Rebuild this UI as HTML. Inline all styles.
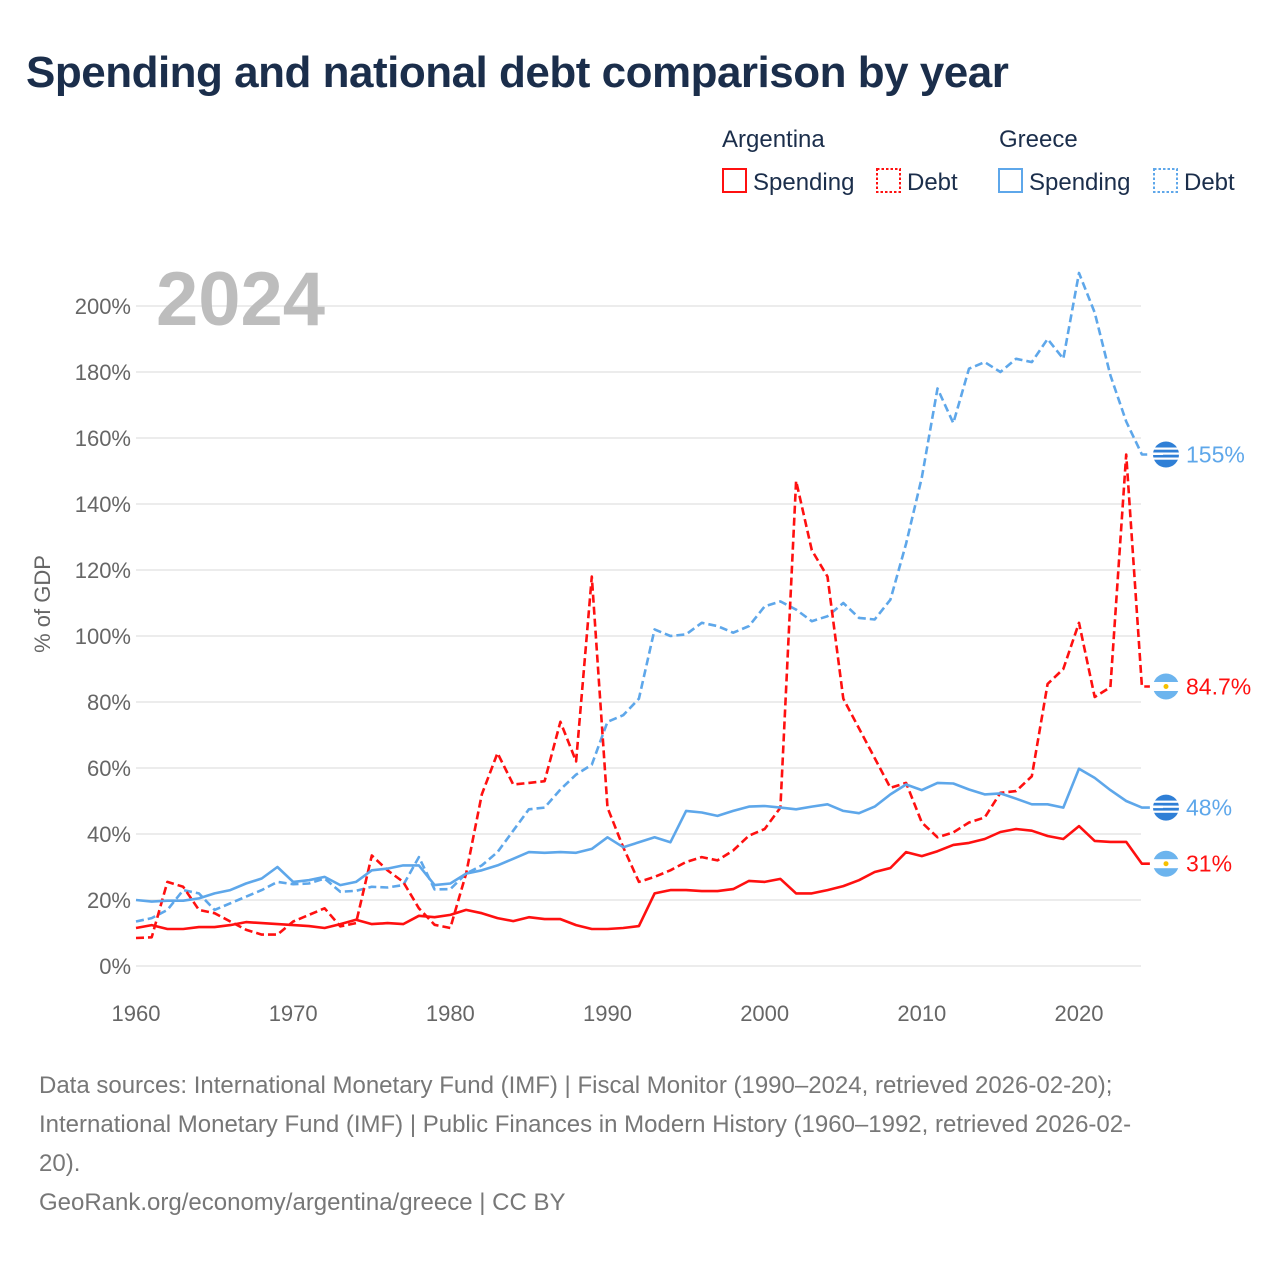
<!DOCTYPE html>
<html><head><meta charset="utf-8">
<style>
body{margin:0;background:#fff;font-family:"Liberation Sans",sans-serif;}
#wrap{position:relative;width:1280px;height:1280px;overflow:hidden;}
h1{position:absolute;left:26px;top:48px;margin:0;font-size:44px;font-weight:bold;color:#1b2e4b;letter-spacing:-0.5px;}
.src{position:absolute;left:39px;top:1066px;font-size:24px;line-height:39px;color:#777;width:1220px;white-space:nowrap;}
</style></head>
<body><div id="wrap">
<h1>Spending and national debt comparison by year</h1>
<svg id="chart" width="1280" height="1280" style="position:absolute;left:0;top:0"></svg>
<div class="src">Data sources: International Monetary Fund (IMF) | Fiscal Monitor (1990–2024, retrieved 2026-02-20);<br>International Monetary Fund (IMF) | Public Finances in Modern History (1960–1992, retrieved 2026-02-<br>20).<br>GeoRank.org/economy/argentina/greece | CC BY</div>
</div>
<script>
const years=[];for(let y=1960;y<=2024;y++)years.push(y);
const arSpending=[11.5,12.4,11.2,11.2,11.8,11.8,12.4,13.3,13,12.7,12.4,12.1,11.5,12.7,14,12.7,13,12.7,15.2,14.8,15.5,17,16,14.5,13.6,14.8,14.2,14.2,12.4,11.2,11.2,11.5,12.1,22,23,23,22.7,22.7,23.3,25.8,25.5,26.4,22,22,23,24.2,26,28.5,29.7,34.5,33.3,34.8,36.7,37.3,38.5,40.6,41.5,41,39.4,38.5,42.4,37.9,37.6,37.6,31];
const arDebt=[8.5,8.7,25.5,24,17,16,13.5,11,9.5,9.5,13.5,15.5,17.5,12,13,33.5,29,25.5,17.5,12.5,11.5,28,52,64.5,55,55.5,56,74,62,118,48,36,25.5,27,29,31.5,33,32,35,39.5,41.5,48,147,126,118,81,72,63,54,55.5,43.5,39,40.5,43.5,45,52.5,53,57.5,85.5,90,104,81.5,84.5,155,84.7];
const grSpending=[20,19.5,19.8,19.8,20.5,22,23,25,26.5,30,25.5,26,27,24.5,25.5,29,29.5,30.5,30.5,24.5,25,28,29,30.5,32.5,34.5,34.3,34.5,34.3,35.5,39,36,37.5,39,37.5,47,46.5,45.5,47,48.3,48.5,48,47.5,48.3,49,47,46.3,48.3,52,55,53.3,55.5,55.3,53.5,52,52.3,50.7,49,49,48,59.8,57,53.3,50,48];
const grDebt=[13.5,14.5,17,23,22,17,19,21,23,25.5,24.8,25,26.5,22.5,22.8,24,23.8,24.5,33,23.2,23.3,28,30.5,34.5,41,47.5,48,53.5,58,61,74,76,81,102,100,100.5,104,103,101,103,109,110.5,108,104.5,106,110,105.5,105,111,128,148,175,164.5,181,183,180,184,183,190,184,210,198,179,165,155];
const yTicks=[0,20,40,60,80,100,120,140,160,180,200];
const xTicks=[1960,1970,1980,1990,2000,2010,2020];
const endLabels=["155%","84.7%","48%","31%"];

const svg=document.getElementById('chart');const NS='http://www.w3.org/2000/svg';
const X=y=>136+(y-1960)*(1079-136)/60;
const Y=v=>966-v*3.3;
function el(t,a,txt){const e=document.createElementNS(NS,t);for(const k in a)e.setAttribute(k,a[k]);if(txt!==undefined)e.textContent=txt;svg.appendChild(e);return e;}
yTicks.forEach(v=>{
 const g=el('line',{x1:136,x2:1141,y1:Y(v),y2:Y(v),stroke:'#e6e6e6','stroke-width':1.5});
 
 
 const t=el('text',{x:131,y:Y(v)+8,'text-anchor':'end','font-size':22,fill:'#666'},v+'%');
 
 
});
xTicks.forEach(v=>{
 const t=el('text',{x:X(v),y:1021,'text-anchor':'middle','font-size':22,fill:'#666'},String(v));
 
 
});
const yt=el('text',{x:50,y:604,'text-anchor':'middle','font-size':22,fill:'#666',transform:'rotate(-90 50 604)'},'% of GDP');


const yr=el('text',{x:156,y:325,'font-size':76,'font-weight':'bold',fill:'#bdbdbd'},'2024');


const RED='#ff1010',BLUE='#5ea7ea';
const series=[[grDebt,BLUE,true,'greece-debt-line'],[arDebt,RED,true,'argentina-debt-line'],[grSpending,BLUE,false,'greece-spending-line'],[arSpending,RED,false,'argentina-spending-line']];
series.forEach((s,i)=>{
 let d=s[0].map((v,j)=>(j?'L':'M')+X(years[j]).toFixed(1)+','+Y(v).toFixed(1)).join('');
 d+='L'+(X(2024)+8)+','+Y(s[0][s[0].length-1]).toFixed(1);
 const p=el('path',{d:d,fill:'none',stroke:s[1],'stroke-width':2.6,'stroke-dasharray':s[2]?'8 4':'none','stroke-linejoin':'round'});
 
 
 const ly=Y(s[0][s[0].length-1]);
 const fx=1166;
 const c=el('circle',{cx:fx,cy:ly,r:13,fill:i%2==0?'#2f7fd6':'#6cb4ee'});
 
 
 if(i%2==0){
  for(let k=0;k<3;k++){el('rect',{x:fx-13,y:ly-7+k*5,width:26,height:2.2,fill:'#fff'});}
  el('rect',{x:fx-13,y:ly-2,width:10,height:2.5,fill:'#fff'});
 } else {
  el('rect',{x:fx-13,y:ly-4.5,width:26,height:9,fill:'#fff'});
  el('circle',{cx:fx,cy:ly,r:2.5,fill:'#f6c000'});
 }
 const t=el('text',{x:1186,y:ly+8,'font-size':23,fill:s[1]},endLabels[i]);
 
 
});
function leg(x,y,txt,col,dash,name){
 const r=el('rect',{x:x,y:y,width:23,height:23,fill:'none',stroke:col,'stroke-width':2,'stroke-dasharray':dash?'2.5 2':'none'});
 
 
 const t=el('text',{x:x+30,y:y+21,'font-size':24,fill:'#1b2e4b'},txt);
 
 
}
const h1=el('text',{x:722,y:147,'font-size':24,fill:'#1b2e4b'},'Argentina');


const h2=el('text',{x:999,y:147,'font-size':24,fill:'#1b2e4b'},'Greece');


leg(723,169,'Spending',RED,false,'legend-argentina-spending');
leg(877,169,'Debt',RED,true,'legend-argentina-debt');
leg(999,169,'Spending',BLUE,false,'legend-greece-spending');
leg(1154,169,'Debt',BLUE,true,'legend-greece-debt');
</script>
</body></html>
